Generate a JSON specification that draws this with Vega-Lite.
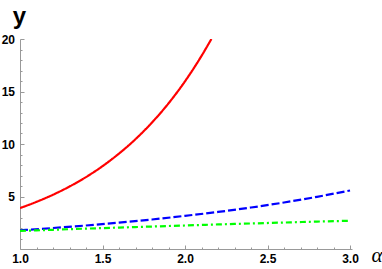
{
  "$schema": "https://vega.github.io/schema/vega-lite/v6.json",
  "autosize": "none",
  "width": 332,
  "height": 210,
  "padding": {"left": 20, "top": 39, "right": 30, "bottom": 20},
  "background": "white",
  "config": {"view": {"stroke": null}},
  "data": {"values": [
    {"x": 1.0, "y": 3.9, "s": "a"},
    {"x": 1.1, "y": 4.49, "s": "a"},
    {"x": 1.2, "y": 5.17, "s": "a"},
    {"x": 1.3, "y": 5.95, "s": "a"},
    {"x": 1.4, "y": 6.85, "s": "a"},
    {"x": 1.5, "y": 7.89, "s": "a"},
    {"x": 1.6, "y": 9.09, "s": "a"},
    {"x": 1.7, "y": 10.46, "s": "a"},
    {"x": 1.8, "y": 12.05, "s": "a"},
    {"x": 1.9, "y": 13.87, "s": "a"},
    {"x": 2.0, "y": 15.97, "s": "a"},
    {"x": 2.1, "y": 18.39, "s": "a"},
    {"x": 2.16, "y": 20.0, "s": "a"},
    {"x": 1.0, "y": 1.78, "s": "b"},
    {"x": 1.2, "y": 2.0, "s": "b"},
    {"x": 1.4, "y": 2.24, "s": "b"},
    {"x": 1.6, "y": 2.51, "s": "b"},
    {"x": 1.8, "y": 2.81, "s": "b"},
    {"x": 2.0, "y": 3.16, "s": "b"},
    {"x": 2.2, "y": 3.53, "s": "b"},
    {"x": 2.4, "y": 3.95, "s": "b"},
    {"x": 2.6, "y": 4.43, "s": "b"},
    {"x": 2.8, "y": 4.97, "s": "b"},
    {"x": 3.0, "y": 5.57, "s": "b"},
    {"x": 1.0, "y": 1.72, "s": "c"},
    {"x": 1.2, "y": 1.83, "s": "c"},
    {"x": 1.4, "y": 1.94, "s": "c"},
    {"x": 1.6, "y": 2.04, "s": "c"},
    {"x": 1.8, "y": 2.14, "s": "c"},
    {"x": 2.0, "y": 2.24, "s": "c"},
    {"x": 2.2, "y": 2.34, "s": "c"},
    {"x": 2.4, "y": 2.43, "s": "c"},
    {"x": 2.6, "y": 2.52, "s": "c"},
    {"x": 2.8, "y": 2.61, "s": "c"},
    {"x": 3.0, "y": 2.69, "s": "c"}
  ]},
  "resolve": {"axis": {"x": "independent", "y": "independent"}},
  "layer": [
    {
      "mark": {"type": "line", "opacity": 0},
      "encoding": {
        "x": {
          "field": "x", "type": "quantitative",
          "scale": {"domain": [1, 3.012], "nice": false, "zero": false},
          "axis": {
            "orient": "bottom",
            "values": [1.1,1.2,1.3,1.4,1.6,1.7,1.8,1.9,2.1,2.2,2.3,2.4,2.6,2.7,2.8,2.9],
            "labels": false, "domain": false, "grid": false,
            "tickSize": -2, "tickColor": "#999999", "title": null
          }
        },
        "y": {
          "field": "y", "type": "quantitative",
          "scale": {"domain": [0, 20], "nice": false},
          "axis": {
            "orient": "left",
            "values": [1,2,3,4,6,7,8,9,11,12,13,14,16,17,18,19],
            "labels": false, "domain": false, "grid": false,
            "tickSize": -2, "tickColor": "#999999", "title": null
          }
        },
        "detail": {"field": "s"}
      }
    },
    {
      "mark": {"type": "line", "strokeWidth": 2.2, "interpolate": "monotone", "clip": true},
      "encoding": {
        "x": {
          "field": "x", "type": "quantitative",
          "axis": {
            "orient": "bottom",
            "values": [1.0, 1.5, 2.0, 2.5, 3.0],
            "format": ".1f",
            "tickSize": -4,
            "grid": false,
            "domainColor": "#999999",
            "tickColor": "#999999",
            "labelFont": "Liberation Sans",
            "labelFontWeight": "bold",
            "labelFontSize": 12,
            "labelColor": "black",
            "labelPadding": 8,
            "labelFlush": false,
            "labelOverlap": false,
            "title": "α",
            "titleFont": "Liberation Serif",
            "titleFontStyle": "italic",
            "titleFontWeight": "normal",
            "titleFontSize": 21,
            "titleColor": "black",
            "titleAlign": "left",
            "titleBaseline": "alphabetic",
            "titleX": 351,
            "titleY": 12
          }
        },
        "y": {
          "field": "y", "type": "quantitative",
          "axis": {
            "orient": "left",
            "values": [5, 10, 15, 20],
            "format": "d",
            "tickSize": -4,
            "grid": false,
            "domainColor": "#999999",
            "tickColor": "#999999",
            "labelFont": "Liberation Sans",
            "labelFontWeight": "bold",
            "labelFontSize": 12,
            "labelColor": "black",
            "labelPadding": 9.5,
            "labelFlush": false,
            "labelOverlap": false,
            "title": "y",
            "titleFont": "Liberation Sans",
            "titleFontWeight": "bold",
            "titleFontSize": 24,
            "titleColor": "black",
            "titleAngle": 0,
            "titleAlign": "center",
            "titleBaseline": "alphabetic",
            "titleX": -1,
            "titleY": -16
          }
        },
        "color": {
          "field": "s", "type": "nominal",
          "scale": {"domain": ["a", "b", "c"], "range": ["#ff0000", "#0000ff", "#00ff00"]},
          "legend": null
        },
        "strokeDash": {
          "field": "s", "type": "nominal",
          "scale": {"domain": ["a", "b", "c"], "range": [[1, 0], [8, 3], [6, 3, 2, 3]]},
          "legend": null
        },
        "order": {"field": "s"}
      }
    }
  ]
}
